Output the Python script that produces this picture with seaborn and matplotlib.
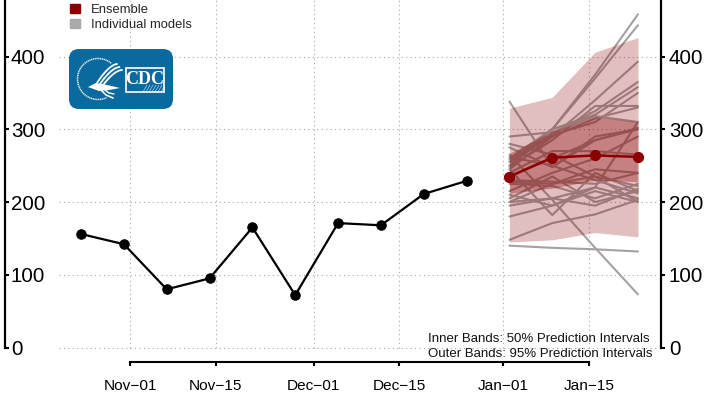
import matplotlib
matplotlib.use("Agg")
import matplotlib.pyplot as plt
import matplotlib.dates as mdates
from matplotlib.patches import FancyBboxPatch, Patch, Polygon, Rectangle
import numpy as np
import pandas as pd
import seaborn as sns

sns.set_theme(style="white")
plt.rcParams["font.family"] = ["Liberation Sans", "DejaVu Sans"]

# observed weekly counts
obs_dates = ["2020-10-24", "2020-10-31", "2020-11-07", "2020-11-14", "2020-11-21",
             "2020-11-28", "2020-12-05", "2020-12-12", "2020-12-19", "2020-12-26"]
obs_values = [156, 142, 80, 95, 165, 72, 171, 168, 211, 229]

# forecast
fc_dates = ["2021-01-02", "2021-01-09", "2021-01-16", "2021-01-23"]
ensemble = [235, 261, 264, 262]
lower_95 = [145, 148, 158, 152]
upper_95 = [329, 344, 406, 426]
lower_50 = [212, 219, 230, 228]
upper_50 = [267, 297, 317, 310]

# individual models, read by eye
models = [
    [250, 300, 375, 458], [255, 300, 370, 443], [245, 290, 340, 393],
    [250, 295, 325, 365], [260, 300, 320, 358], [258, 292, 310, 350],
    [248, 285, 332, 332], [255, 290, 315, 330], [290, 296, 318, 310],
    [265, 203, 137, 73], [148, 171, 183, 203], [180, 195, 215, 200],
    [140, 137, 135, 132], [338, 248, 285, 302], [275, 248, 290, 300],
    [245, 182, 240, 215], [210, 195, 220, 310], [230, 228, 225, 240],
    [228, 225, 235, 222], [225, 222, 205, 225], [215, 240, 260, 290],
    [205, 235, 200, 215], [200, 205, 220, 205], [195, 205, 195, 218],
    [235, 260, 285, 300], [240, 270, 270, 265], [262, 250, 230, 212],
    [280, 265, 235, 200], [200, 225, 245, 240],
]

y_ticks = [0, 100, 200, 300, 400]
x_tick_dates = ["2020-11-01", "2020-11-15", "2020-12-01", "2020-12-15", "2021-01-01", "2021-01-15"]
x_tick_labels = ["Nov\u221201", "Nov\u221215", "Dec\u221201", "Dec\u221215", "Jan\u221201", "Jan\u221215"]

obs_df = pd.DataFrame({"date": pd.to_datetime(obs_dates), "value": obs_values})
fc_df = pd.DataFrame({"date": pd.to_datetime(fc_dates), "value": ensemble})
model_df = pd.DataFrame(
    [(i, d, v) for i, m in enumerate(models) for d, v in zip(pd.to_datetime(fc_dates), m)],
    columns=["model", "date", "value"],
)

W, H = 711, 403
fig = plt.figure(figsize=(W / 100, H / 100), dpi=100)
ax = fig.add_axes([0, 0, 1, 1])
ax.patch.set_alpha(0)

# pixel calibration of the axes
nov1 = pd.Timestamp("2020-11-01")
px_per_day = 6.12
px_per_unit = 0.7275
ax.set_xlim(nov1 - pd.Timedelta(days=130 / px_per_day), nov1 + pd.Timedelta(days=(W - 130) / px_per_day))
ax.set_ylim((347.5 - H) / px_per_unit, 347.5 / px_per_unit)

# dotted grid
tick_dt = pd.to_datetime(x_tick_dates)
grid_kw = dict(color="#a8a8a8", lw=0.8, linestyles=(0, (1, 3)), zorder=1)
ax.hlines(y_ticks, nov1 - pd.Timedelta(days=11.6), nov1 + pd.Timedelta(days=86.5), **grid_kw)
ax.vlines(tick_dt, 0, ax.get_ylim()[1], **grid_kw)

# individual models below the bands
sns.lineplot(data=model_df, x="date", y="value", units="model", estimator=None,
             color="#a5a1a1", lw=1.5, legend=False, ax=ax, zorder=2)

# prediction bands
ax.fill_between(fc_df["date"], lower_95, upper_95, color="darkred", alpha=0.25, lw=0, zorder=3)
ax.fill_between(fc_df["date"], lower_50, upper_50, color="darkred", alpha=0.32, lw=0, zorder=3)

# observed + ensemble
sns.lineplot(data=obs_df, x="date", y="value", color="black", lw=1.6, marker="o", ms=6.8,
             mec="black", ax=ax, zorder=5)
sns.lineplot(data=fc_df, x="date", y="value", color="darkred", lw=1.8, marker="o", ms=7.3,
             mec="darkred", ax=ax, zorder=6)

ax.set_xlabel("")
ax.set_ylabel("")

# axes
ax.spines["top"].set_visible(False)
ax.spines["right"].set_visible(False)
ax.spines["left"].set_position(("axes", 4.5 / W))
ax.spines["left"].set_bounds(0, ax.get_ylim()[1])
ax.spines["left"].set_linewidth(1.6)
ax.spines["left"].set_color("black")
ax.spines["bottom"].set_position(("axes", (H - 361.5) / H))
ax.spines["bottom"].set_bounds(mdates.date2num(tick_dt[0]), mdates.date2num(tick_dt[-1]))
ax.spines["bottom"].set_linewidth(1.5)
ax.spines["bottom"].set_color("black")

ax.set_yticks(y_ticks)
ax.set_xticks(tick_dt)
ax.set_xticklabels(x_tick_labels)
ax.tick_params(axis="x", direction="out", length=3, width=1.5, color="black", labelsize=11.1,
               pad=9.5, labelcolor="black", bottom=True)
ax.tick_params(axis="y", direction="in", length=3, width=1.5, color="black", labelsize=14.8,
               pad=-4.5, labelcolor="black", left=True)
for lab in ax.get_yticklabels():
    lab.set_ha("left")

ax2 = ax.twinx()
ax2.set_ylim(ax.get_ylim())
ax2.patch.set_alpha(0)
for s in ["top", "left", "bottom"]:
    ax2.spines[s].set_visible(False)
ax2.spines["right"].set_position(("axes", 660.5 / W))
ax2.spines["right"].set_bounds(0, ax.get_ylim()[1])
ax2.spines["right"].set_linewidth(1.6)
ax2.spines["right"].set_color("black")
ax2.set_yticks(y_ticks)
ax2.grid(False)
ax.grid(False)
ax2.tick_params(axis="y", direction="out", length=3, width=1.5, color="black", labelsize=14.8,
                pad=3, labelcolor="black", right=True)

# legend
handles = [Patch(color="darkred", label="Ensemble"), Patch(color="#a9a9a9", label="Individual models")]
ax.legend(handles=handles, loc="upper left", bbox_to_anchor=(70 / W, 1 - 3.5 / H), frameon=False,
          fontsize=9.4, handlelength=0.8, handleheight=0.7, handletextpad=0.82,
          labelspacing=0.27, borderpad=0, borderaxespad=0)

# interval note
fig.text(428 / W, 1 - 339 / H, "Inner Bands: 50% Prediction Intervals", fontsize=9.55, va="center", color="#111111")
fig.text(428 / W, 1 - 354 / H, "Outer Bands: 95% Prediction Intervals", fontsize=9.55, va="center", color="#111111")

# CDC logo, coordinates in pixels of the logo box
blue = "#0a6a9e"
logo = fig.add_axes([69 / W, 1 - 109 / H, 104 / W, 60 / H])
logo.set_xlim(0, 104)
logo.set_ylim(60, 0)
logo.axis("off")
logo.add_patch(FancyBboxPatch((8, 8), 88, 44, boxstyle="round,pad=8,rounding_size=10", fc=blue, ec="none"))
theta = np.radians(np.linspace(50, 295, 60))
logo.plot(29 + 20.5 * np.cos(theta), 30 - 20.5 * np.sin(theta), color="white", lw=1.1,
          ls=(0, (0.8, 0.4)), alpha=0.9)
# bird stripes
t = np.linspace(0, 1, 20)
for dx, dy in [(0, 0), (2.5, 3), (5, 6)]:
    logo.plot(48 + dx - 20 * t ** 0.8, 15 + dy + 19 * t ** 1.3 - dy * 0.4 * t, color="white", lw=1.3,
              solid_capstyle="round")
logo.add_patch(Polygon([(19, 38), (27, 34), (38, 36), (51, 39), (40, 41), (30, 42)], fc="white", ec="none"))
logo.plot([32, 37, 44], [41, 46, 49], color="white", lw=1.2)
logo.plot([36, 40, 45], [41, 44, 45], color="white", lw=1.0)
# CDC box
for k in range(8):
    logo.plot([74 + 3 * k, 78 + 3 * k if k < 6 else 95], [43, 36 if k < 6 else 38], color="white", lw=0.4, alpha=0.8)
logo.add_patch(Rectangle((57, 19), 38, 24, fc="none", ec="white", lw=1.2))
logo.text(76, 30, "CDC", color="white", ha="center", va="center", fontsize=13, fontweight="bold",
          family="Liberation Serif")

fig.savefig("out.png", dpi=100)
